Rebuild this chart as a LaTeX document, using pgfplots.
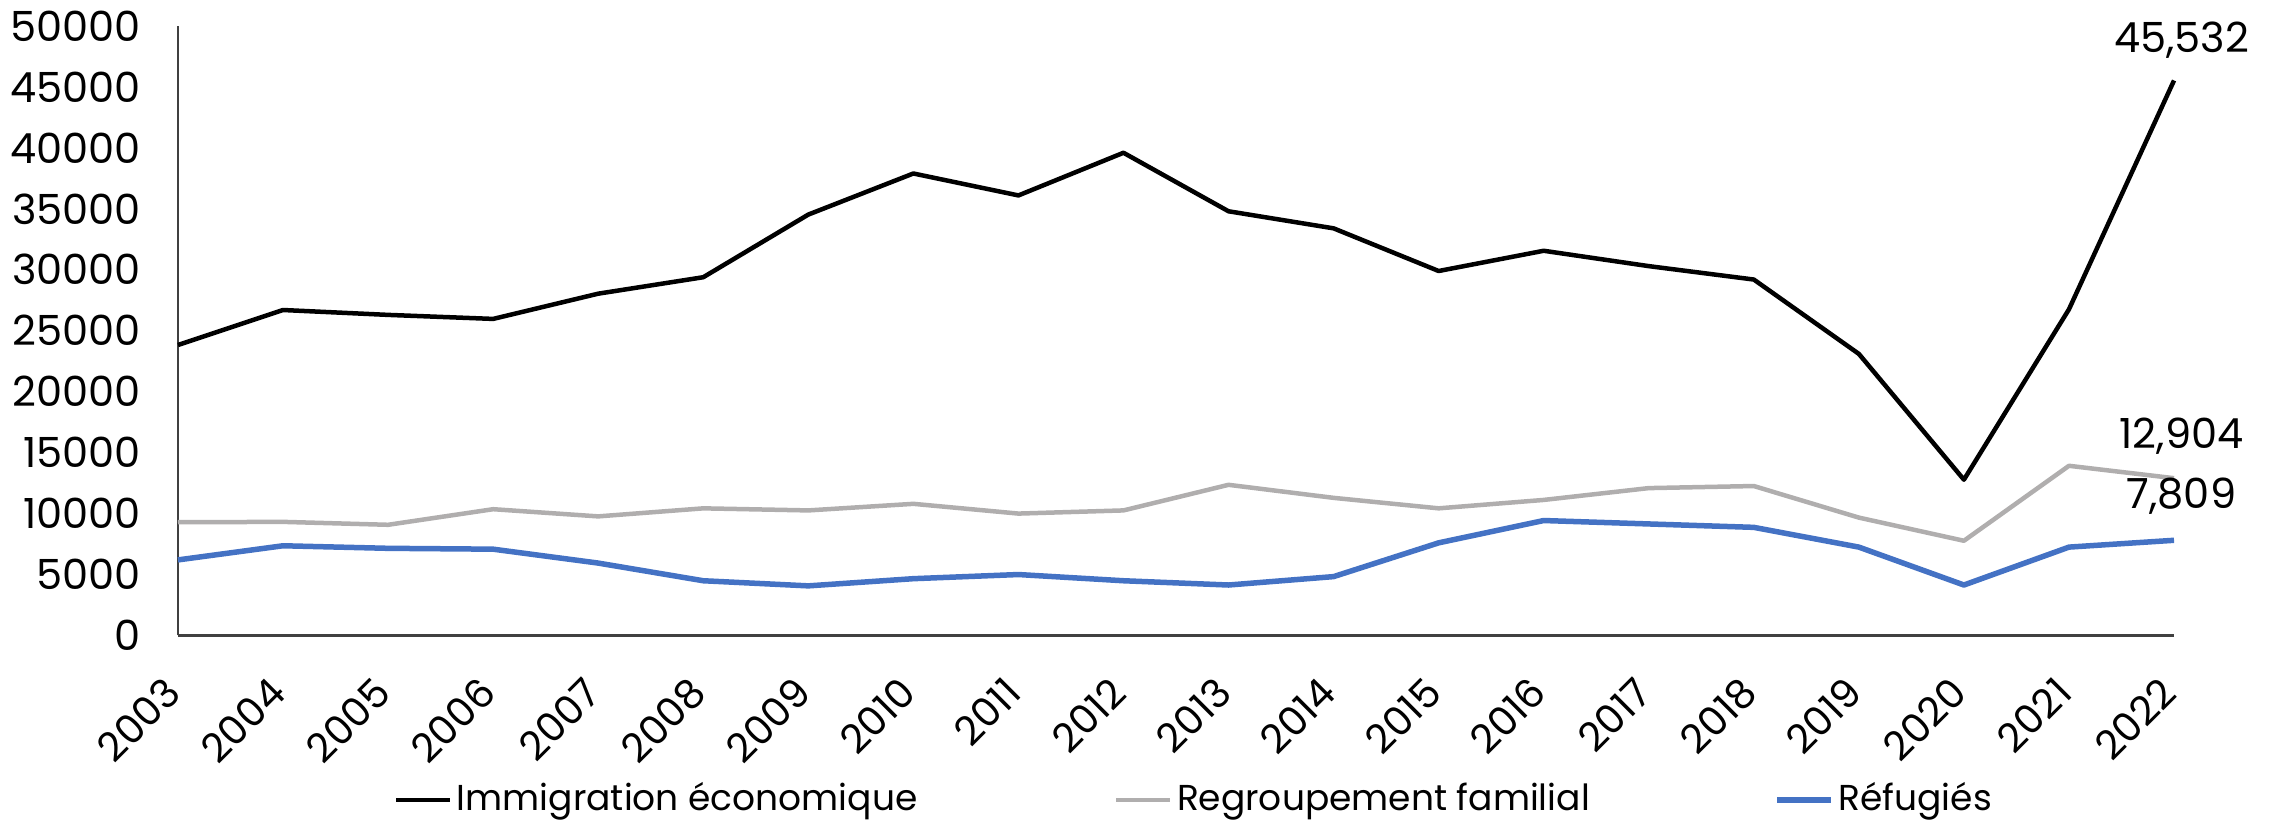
\documentclass[border=0pt]{standalone}
\usepackage{pgfplots}
\pgfplotsset{compat=1.18}
\usepackage{fontspec}
\setmainfont{Poppins}
\definecolor{cgray}{HTML}{B0AEAE}
\definecolor{cblue}{HTML}{4472C4}
\definecolor{caxis}{HTML}{404040}
\newcommand{\lblfont}{\fontsize{8.3}{10}\selectfont}
\newcommand{\xlblfont}{\fontsize{8}{10}\selectfont}
\newcommand{\legfont}{\fontsize{7.2}{9}\selectfont}
\tikzset{datalbl/.style={pos=1, anchor=base, inner sep=0pt, xshift=1.5pt,
     text=black, font=\lblfont}}
\begin{document}
\begin{tikzpicture}
\begin{axis}[
  name=ax,
  scale only axis,
  width=399.2pt, height=121.9pt,
  clip=false,
  xmin=2003, xmax=2022,
  ymin=0, ymax=50000,
  axis x line*=bottom, axis y line*=left,
  axis line style={caxis, line width=0.45pt},
  xtick={2003,2004,...,2022},
  ytick={0,5000,...,50000},
  major tick length=0pt,
  /pgf/number format/assume math mode=true,
  /pgf/number format/1000 sep={},
  scaled y ticks=false,
  x tick label style={rotate=45, anchor=north east, inner sep=0pt,
     xshift=-7.6pt, yshift=-3.2pt, font=\xlblfont},
  y tick label style={anchor=east, inner sep=0pt, xshift=-7.2pt, font=\lblfont},
  legend columns=3,
  legend style={draw=none, fill=none, font=\legfont, inner sep=0pt,
    at={(0.1077,-0.27)}, anchor=west,
    /tikz/every odd column/.append style={column sep=-1.1pt},
    /tikz/column 2/.style={column sep=37.3pt},
    /tikz/column 4/.style={column sep=34.9pt}},
  legend image code/.code={\draw[#1] (0pt,0pt) -- (10.8pt,0pt);},
  every axis plot/.append style={line join=round},
]
\addplot[black, line width=0.9pt] coordinates {
(2003,23830) (2004,26700) (2005,26300) (2006,25970) (2007,28040) (2008,29390)
(2009,34530) (2010,37900) (2011,36100) (2012,39600) (2013,34800) (2014,33400)
(2015,29900) (2016,31560) (2017,30300) (2018,29200) (2019,23100) (2020,12780)
(2021,26760) (2022,45532)} node[datalbl, yshift=5.5pt] {45,532};
\addlegendentry{Immigration économique}
\addplot[cgray, line width=0.9pt] coordinates {
(2003,9290) (2004,9320) (2005,9080) (2006,10360) (2007,9770) (2008,10430)
(2009,10260) (2010,10800) (2011,10000) (2012,10260) (2013,12360) (2014,11290)
(2015,10430) (2016,11120) (2017,12090) (2018,12260) (2019,9670) (2020,7770)
(2021,13920) (2022,12904)} node[datalbl, yshift=6pt] {12,904};
\addlegendentry{Regroupement familial}
\addplot[cblue, line width=1.1pt] coordinates {
(2003,6200) (2004,7360) (2005,7150) (2006,7080) (2007,5940) (2008,4490)
(2009,4070) (2010,4660) (2011,5000) (2012,4490) (2013,4140) (2014,4830)
(2015,7600) (2016,9430) (2017,9150) (2018,8870) (2019,7250) (2020,4140)
(2021,7250) (2022,7809)} node[datalbl, yshift=6.4pt] {7,809};
\addlegendentry{Réfugiés}
\end{axis}
\pgfresetboundingbox
\path ([xshift=-35.6pt,yshift=-37.5pt]ax.south west) rectangle ([xshift=21.2pt,yshift=5.2pt]ax.north east);
\end{tikzpicture}
\end{document}
